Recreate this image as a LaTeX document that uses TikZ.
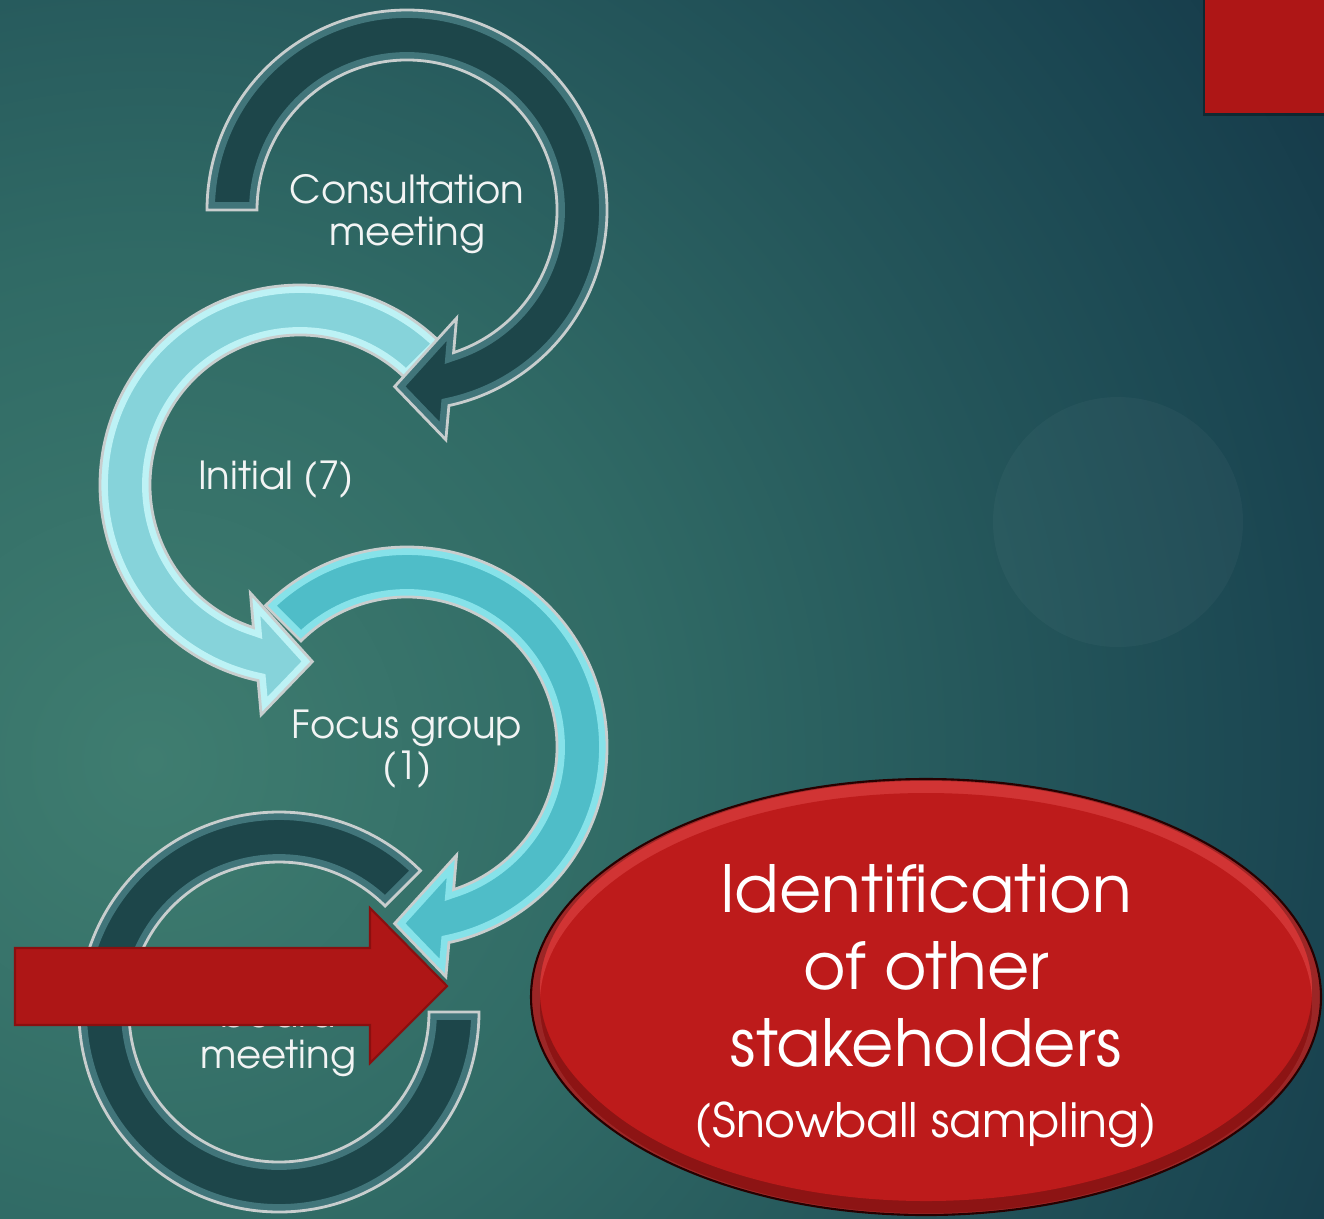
\documentclass[tikz,border=0pt]{standalone}
\usepackage{fontspec}
\setmainfont{TeX Gyre Adventor}
\definecolor{bgA}{HTML}{3F7D70}
\definecolor{bgB}{HTML}{306A65}
\definecolor{bgC}{HTML}{25575B}
\definecolor{bgD}{HTML}{1A4551}
\definecolor{bgE}{HTML}{153848}
\pgfdeclareradialshading{bgshade}{\pgfpoint{0bp}{0bp}}{%
  color(0bp)=(bgA); color(9bp)=(bgB); color(15bp)=(bgC); color(21bp)=(bgD); color(25bp)=(bgE); color(50bp)=(bgE)}
\definecolor{darkbody}{HTML}{1D464A}
\definecolor{darkedge}{HTML}{41757A}
\definecolor{lightbody}{HTML}{86D3DA}
\definecolor{lightedge}{HTML}{BDF2F5}
\definecolor{midbody}{HTML}{4FBDC8}
\definecolor{midedge}{HTML}{86E2E9}
\definecolor{rim}{HTML}{C8CECE}
\definecolor{redA}{HTML}{AE1616}
\definecolor{redAedge}{HTML}{8A0F0F}
\definecolor{redE}{HTML}{BD1B1B}
\definecolor{redHi}{HTML}{E24A4A}
\definecolor{txt}{HTML}{F2F4F4}
% circular arrow: #1 options, #2 tail angle, #3 tip angle, #4 sign (1 = clockwise on screen, -1 = counter-clockwise)
\newcommand\circarrow[4]{%
  \path[#1] ({#2}:200) arc[start angle={#2}, end angle={#3-(#4)*16.1}, radius=200]
    -- ({#3-(#4)*13.6}:233) -- ({#3}:177) -- ({#3-(#4)*28.6}:119) -- ({#3-(#4)*22.1}:150)
    arc[start angle={#3-(#4)*22.1}, end angle={#2}, radius=150] -- cycle;}
\newcommand\blockarcshape[1]{%
  \path[#1] (0:200) arc[start angle=0, end angle=315, radius=200]
    -- (315:150) arc[start angle=315, end angle=0, radius=150] -- cycle;}
% #1 cx, #2 cy, #3 body, #4 edge, #5 tail, #6 tip, #7 sign
\newcommand\bevelarrow[7]{%
  \begin{scope}[shift={(#1,#2)}]
    \begin{scope}
      \circarrow{clip}{#5}{#6}{#7}
      \circarrow{fill=#3}{#5}{#6}{#7}
      \circarrow{draw=#4, line width=9pt, line join=miter}{#5}{#6}{#7}
    \end{scope}
    \circarrow{draw=rim, line width=1.6pt, line join=miter}{#5}{#6}{#7}
  \end{scope}}
\tikzset{
  lbl/.style={text=txt, align=center, font=\fontsize{22}{23.5}\selectfont, inner sep=0pt},
  bigtxt/.style={text=white, align=center, font=\fontsize{37}{44}\selectfont, inner sep=0pt}
}
\begin{document}
\begin{tikzpicture}[x=0.02cm, y=-0.02cm]
\useasboundingbox (0,0) rectangle (1324,1218);
% background
\begin{scope}
  \clip (0,0) rectangle (1324,1218);
  \shade[shading=bgshade] (150,760) circle [radius=1400];
  \fill[white, opacity=0.03] (1118,522) circle [radius=125];
\end{scope}
% top-right red block
\fill[black, opacity=0.35] (1203,0) rectangle (1324,116);
\fill[redA] (1205,0) rectangle (1324,113);
% arrow 4 (block arc, board meeting)
\begin{scope}[shift={(279,1012)}]
  \begin{scope}
    \blockarcshape{clip}
    \blockarcshape{fill=darkbody}
    \blockarcshape{draw=darkedge, line width=9pt}
  \end{scope}
  \blockarcshape{draw=rim, line width=1.6pt}
\end{scope}
% arrow 3 (focus group)
\bevelarrow{407}{747}{midbody}{midedge}{225}{454}{1}
% arrow 2 (initial)
\bevelarrow{300}{485}{lightbody}{lightedge}{-45}{-274}{-1}
% arrow 1 (consultation)
\bevelarrow{407}{210}{darkbody}{darkedge}{180}{454}{1}
% labels
\node[lbl] (t1) at (407,214) {Consultation\\meeting};
\node[lbl] (t2) at (276,480) {Initial (7)};
\node[lbl] (t3) at (407,749) {Focus group\\(1)};
\node[lbl] (t4) at (278,1038) {board\\meeting};
% red arrow
\fill[redA, draw=redAedge, line width=1.2pt, line join=miter]
  (15,948) -- (370,948) -- (370,908) -- (447,986) -- (370,1063) -- (370,1025) -- (15,1025) -- cycle;
% ellipse
\fill[redE] (926,997) ellipse [x radius=395, y radius=218];
\begin{scope}
  \clip (926,997) ellipse [x radius=395, y radius=218];
  \draw[redHi, opacity=0.55, line width=10pt] (926,1004) ellipse [x radius=395, y radius=218];
  \draw[black, opacity=0.25, line width=10pt] (926,990) ellipse [x radius=395, y radius=218];
  \fill[redE] (926,997) ellipse [x radius=380, y radius=204];
\end{scope}
\draw[black!85!red, line width=1.2pt] (926,997) ellipse [x radius=395, y radius=218];
\node[bigtxt] (e) at (926,1006) {Identification\\of other\\stakeholders\\[-4pt]{\fontsize{27}{32}\selectfont (Snowball sampling)}};
\end{tikzpicture}
\end{document}
